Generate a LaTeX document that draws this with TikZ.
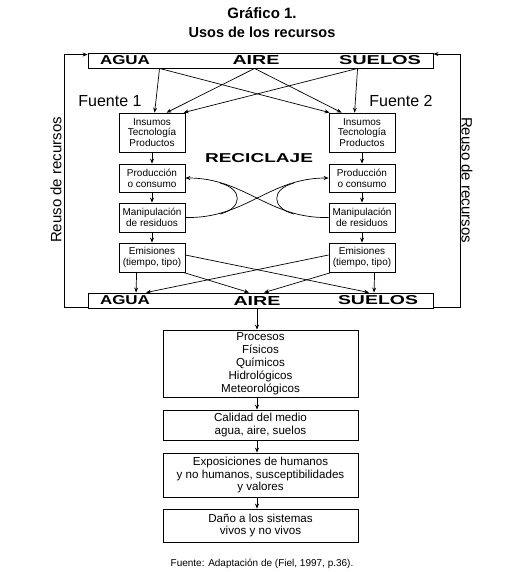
\documentclass[tikz,border=0pt]{standalone}
\usepackage{fontspec}
\setmainfont{Liberation Sans}
\usepackage{graphicx}
\usetikzlibrary{arrows.meta,calc}
\tikzset{
  sbox/.style={draw, line width=0.8pt, minimum width=66pt, align=center, inner sep=0pt, font=\fontsize{10}{10.8}\selectfont},
  cbox/.style={draw, line width=0.8pt, minimum width=195pt, align=center, inner sep=0pt, font=\fontsize{11.6}{12.6}\selectfont},
  bar/.style={draw, line width=0.9pt, minimum width=345pt, minimum height=15pt, inner sep=0pt},
  arr/.style={-{Stealth[length=5pt,width=4pt]}, line width=0.7pt},
  ln/.style={line width=0.7pt},
  word/.style={inner sep=0pt},
}
\newcommand{\bw}[3]{\resizebox{#1pt}{#2pt}{\bfseries #3}}
\begin{document}
\begin{tikzpicture}[x=1pt,y=-1pt]
\useasboundingbox (0,0) rectangle (524,572);
% titles
\node[font=\bfseries\fontsize{15}{17}\selectfont] (t1) at (262,13) {Gráfico 1.};
\node[font=\bfseries\fontsize{14.5}{17}\selectfont] (t2) at (262,32) {Usos de los recursos};
% bars
\node[bar] (topbar) at (260.5,60.5) {};
\node[bar] (botbar) at (261,300.5) {};
\node[word] (tagua) at (125,60.5) {\bw{50}{9}{AGUA}};
\node[word] (taire) at (256,60.5) {\bw{47}{9}{AIRE}};
\node[word] (tsuelos) at (380,60.5) {\bw{82}{9}{SUELOS}};
\node[word] (bagua) at (125,300.5) {\bw{50}{9}{AGUA}};
\node[word] (baire) at (257,300.5) {\bw{47}{9}{AIRE}};
\node[word] (bsuelos) at (378,300.5) {\bw{80}{9}{SUELOS}};
% fuentes
\node[font=\fontsize{16}{18}\selectfont] (f1) at (110,101) {Fuente 1};
\node[font=\fontsize{16}{18}\selectfont] (f2) at (401,101) {Fuente 2};
% reuso
\node[rotate=90, font=\fontsize{15}{17}\selectfont] (r1) at (56,180) {Reuso de recursos};
\node[rotate=-90, font=\fontsize{15}{17}\selectfont] (r2) at (467,180) {Reuso de recursos};
% reciclaje
\node[word] (rec) at (259,158) {\bw{108}{9}{RECICLAJE}};
% left column
\node[sbox, minimum height=39pt] (li) at (152,132.5) {Insumos\\Tecnología\\Productos};
\node[sbox, minimum height=28pt] (lp) at (152,178) {Producción\\o consumo};
\node[sbox, minimum height=29pt] (lm) at (152,217.5) {Manipulación\\de residuos};
\node[sbox, minimum height=29pt] (le) at (152,257.5) {Emisiones\\(tiempo, tipo)};
% right column
\node[sbox, minimum height=39pt] (ri) at (362,132.5) {Insumos\\Tecnología\\Productos};
\node[sbox, minimum height=28pt] (rp) at (362,178) {Producción\\o consumo};
\node[sbox, minimum height=29pt] (rm) at (362,217.5) {Manipulación\\de residuos};
\node[sbox, minimum height=29pt] (re) at (362,257.5) {Emisiones\\(tiempo, tipo)};
% chain
\node[cbox, minimum height=67pt, font=\fontsize{11.6}{13}\selectfont] (proc) at (260.5,363.5) {Procesos\\Físicos\\Químicos\\Hidrológicos\\Meteorológicos};
\node[cbox, minimum height=30pt] (cal) at (260.5,425) {Calidad del medio\\agua, aire, suelos};
\node[cbox, minimum height=44pt] (expo) at (260.5,475) {Exposiciones de humanos\\y no humanos, susceptibilidades\\y valores};
\node[cbox, minimum height=33pt] (dano) at (260.5,525.5) {Daño a los sistemas\\vivos y no vivos};
\node[font=\fontsize{10}{12}\selectfont] (cap) at (262,564) {Fuente: Adaptación de (Fiel, 1997, p.36).};
% top arrows
\draw[arr] ($(topbar.south west)+(72,0)$) -- ($(li.north west)+(36,0)$);
\draw[arr] ($(topbar.south west)+(72,0)$) -- ($(ri.north west)+(1,0)$);
\draw[arr] ($(topbar.south west)+(167,0)$) -- ($(li.north west)+(48,0)$);
\draw[arr] ($(topbar.south west)+(167,0)$) -- ($(ri.north west)+(13,0)$);
\draw[arr] ($(topbar.south west)+(270,0)$) -- ($(li.north west)+(65,0)$);
\draw[arr] ($(topbar.south west)+(270,0)$) -- ($(ri.north west)+(26,0)$);
% column arrows
\draw[arr] (li.south) -- (lp.north);
\draw[arr] (lp.south) -- (lm.north);
\draw[arr] (lm.south) -- (le.north);
\draw[arr] (ri.south) -- (rp.north);
\draw[arr] (rp.south) -- (rm.north);
\draw[arr] (rm.south) -- (re.north);
% recycling
\draw[{Stealth[length=5pt,width=4pt]}-, line width=0.7pt] (lp.east) .. controls (245,178) and (269,219) .. (rm.west);
\draw[arr] (lm.east) .. controls (245,219) and (269,178) .. (rp.west);
\draw[ln] (220.2,183.1) .. controls (243,189) and (243,208) .. (220.2,214);
\draw[ln] (293.8,183.1) .. controls (271,189) and (271,208) .. (293.8,214);
% emission arrows
\draw[arr] ($(le.east)+(0,-2.5)$) -- ($(botbar.north west)+(281,0)$);
\draw[arr] ($(le.south east)+(-2,0)$) -- ($(botbar.north west)+(161,0)$);
\draw[arr] ($(le.south west)+(18,0)$) -- ($(botbar.north west)+(48,0)$);
\draw[arr] ($(re.west)+(0,-2.5)$) -- ($(botbar.north west)+(58,0)$);
\draw[arr] ($(re.south west)+(3,0)$) -- ($(botbar.north west)+(176,0)$);
\draw[arr] ($(re.south west)+(46,0)$) -- ($(botbar.north west)+(286,0)$);
% reuse loops
\draw[arr] ($(botbar.south west)+(0,-1)$) -- ++(-24,0) |- ($(topbar.north west)+(0,2)$);
\draw[arr] ($(botbar.south east)+(0,-1)$) -- ++(26,0) |- ($(topbar.north east)+(0,1.5)$);
% chain arrows
\draw[arr] ($(botbar.south)+(-4,0)$) -- ($(proc.north)+(-3.5,0)$);
\draw[arr] ($(proc.south)+(-3.5,0)$) -- ($(cal.north)+(-3.5,0)$);
\draw[arr] ($(cal.south)+(-3.5,0)$) -- ($(expo.north)+(-3.5,0)$);
\draw[arr] ($(expo.south)+(-3.5,0)$) -- ($(dano.north)+(-3.5,0)$);
\end{tikzpicture}
\end{document}
